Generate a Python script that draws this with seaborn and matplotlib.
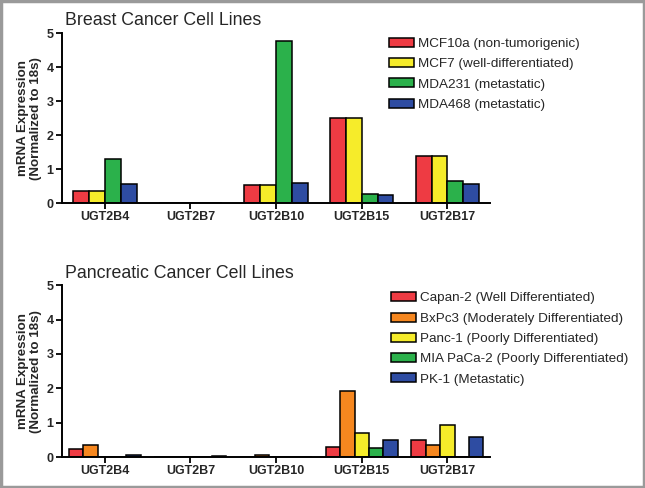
import matplotlib
matplotlib.use("Agg")
import matplotlib.pyplot as plt
import pandas as pd
import seaborn as sns
from matplotlib.patches import Rectangle

genes = ["UGT2B4", "UGT2B7", "UGT2B10", "UGT2B15", "UGT2B17"]

# breast cancer panel
breast_lines = ["MCF10a (non-tumorigenic)", "MCF7 (well-differentiated)",
                "MDA231 (metastatic)", "MDA468 (metastatic)"]
mcf10a = [0.35, 0.0, 0.53, 2.50, 1.38]
mcf7 = [0.35, 0.0, 0.53, 2.50, 1.38]
mda231 = [1.30, 0.0, 4.78, 0.27, 0.66]
mda468 = [0.57, 0.0, 0.60, 0.24, 0.56]

# pancreatic cancer panel
panc_lines = ["Capan-2 (Well Differentiated)", "BxPc3 (Moderately Differentiated)",
              "Panc-1 (Poorly Differentiated)", "MIA PaCa-2 (Poorly Differentiated)",
              "PK-1 (Metastatic)"]
capan2 = [0.23, 0.0, 0.0, 0.29, 0.50]
bxpc3 = [0.36, 0.0, 0.07, 1.93, 0.36]
panc1 = [0.0, 0.0, 0.0, 0.70, 0.92]
miapaca2 = [0.0, 0.0, 0.0, 0.26, 0.0]
pk1 = [0.05, 0.03, 0.0, 0.50, 0.57]

RED, ORANGE, YELLOW = "#EE3B43", "#F6871F", "#F6EC2A"
GREEN, BLUE = "#2BB14B", "#2E4CA2"


def long_df(lines, series):
    rows = []
    for name, vals in zip(lines, series):
        for g, v in zip(genes, vals):
            rows.append({"gene": g, "line": name, "value": v})
    return pd.DataFrame(rows)


sns.set_style("ticks")
plt.rcParams["font.family"] = ["Liberation Sans", "DejaVu Sans"]

fig = plt.figure(figsize=(6.45, 4.88), dpi=100)
ax1 = fig.add_axes([0.0961, 0.584, 0.664, 0.348])
ax2 = fig.add_axes([0.0961, 0.0635, 0.664, 0.352])

panels = [
    (ax1, long_df(breast_lines, [mcf10a, mcf7, mda231, mda468]),
     [RED, YELLOW, GREEN, BLUE], 0.74, "Breast Cancer Cell Lines", (0.736, 1.045), 1 - 25 / 488),
    (ax2, long_df(panc_lines, [capan2, bxpc3, panc1, miapaca2, pk1]),
     [RED, ORANGE, YELLOW, GREEN, BLUE], 0.84, "Pancreatic Cancer Cell Lines", (0.741, 1.03), 1 - 278 / 488),
]

for ax, df, pal, w, title, anchor, ty in panels:
    sns.barplot(data=df, x="gene", y="value", hue="line", palette=pal, saturation=1,
                width=w, edgecolor="black", linewidth=1.1, ax=ax)
    ax.set_ylim(0, 5)
    ax.set_xlim(-0.5, 4.5)
    ax.set_yticks(range(6))
    ax.set_xlabel("")
    ax.set_ylabel("mRNA Expression\n(Normalized to 18s)", fontsize=9.6,
                  fontweight="bold", labelpad=3)
    sns.despine(ax=ax)
    for s in ["left", "bottom"]:
        ax.spines[s].set_linewidth(1.4)
        ax.spines[s].set_color("black")
    ax.tick_params(axis="both", length=4, width=1.3, color="black",
                   labelsize=9, pad=2)
    for lab in ax.get_xticklabels() + ax.get_yticklabels():
        lab.set_fontweight("bold")
    sns.move_legend(ax, loc="upper left", bbox_to_anchor=anchor, frameon=False,
                    title=None, fontsize=9.7, handlelength=1.8, handleheight=0.65,
                    handletextpad=0.35, labelspacing=0.6)
    fig.text(0.101, ty, title, fontsize=12.8, va="baseline", ha="left")

fig.patches.append(Rectangle((0.002, 0.002), 0.996, 0.996, transform=fig.transFigure,
                             fill=False, edgecolor="#9a9a9a", linewidth=2.5))

fig.savefig("out.png", dpi=100)
